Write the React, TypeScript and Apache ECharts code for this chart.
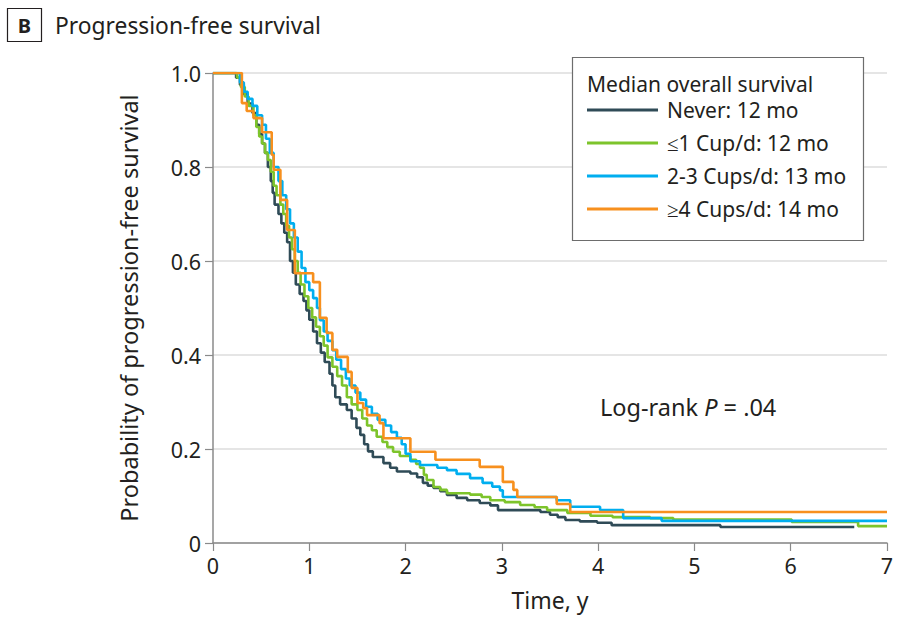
import React, { useEffect, useRef } from "react";
import * as echarts from "echarts";

const xTicks = [0, 1, 2, 3, 4, 5, 6, 7];
const yTicks = [0, 0.2, 0.4, 0.6, 0.8, 1.0];

const seriesNames = [
  "Never: 12 mo",
  "≤1 Cup/d: 12 mo",
  "2-3 Cups/d: 13 mo",
  "≥4 Cups/d: 14 mo",
];
const seriesColors = ["#2F4B57", "#7DC42B", "#00AEEF", "#F7901E"];

const neverTime = [0, 0.24, 0.28, 0.32, 0.36, 0.41, 0.45, 0.48, 0.51, 0.54, 0.57, 0.6, 0.62, 0.64, 0.68, 0.71, 0.74, 0.77, 0.8, 0.83, 0.86, 0.9, 0.94, 0.97, 1.0, 1.04, 1.08, 1.12, 1.16, 1.21, 1.24, 1.27, 1.32, 1.39, 1.44, 1.49, 1.53, 1.57, 1.61, 1.66, 1.77, 1.84, 1.91, 2.05, 2.12, 2.18, 2.23, 2.29, 2.36, 2.43, 2.53, 2.64, 2.77, 2.88, 2.96, 3.4, 3.5, 3.58, 3.66, 3.81, 3.99, 4.14, 5.27, 6.66];
const neverSurv = [1.0, 0.99, 0.975, 0.955, 0.935, 0.915, 0.89, 0.87, 0.85, 0.83, 0.8, 0.77, 0.745, 0.72, 0.7, 0.68, 0.66, 0.64, 0.6, 0.575, 0.55, 0.53, 0.515, 0.495, 0.475, 0.45, 0.425, 0.405, 0.385, 0.36, 0.335, 0.31, 0.295, 0.283, 0.265, 0.245, 0.23, 0.21, 0.195, 0.183, 0.17, 0.16, 0.152, 0.148, 0.14, 0.128, 0.122, 0.117, 0.11, 0.102, 0.096, 0.091, 0.085, 0.08, 0.07, 0.066, 0.06, 0.055, 0.049, 0.046, 0.043, 0.038, 0.034, 0.034];

const lowTime = [0, 0.25, 0.29, 0.33, 0.37, 0.42, 0.45, 0.48, 0.51, 0.54, 0.57, 0.6, 0.63, 0.66, 0.7, 0.73, 0.76, 0.79, 0.82, 0.85, 0.88, 0.91, 0.95, 0.99, 1.03, 1.07, 1.11, 1.15, 1.19, 1.24, 1.29, 1.34, 1.39, 1.44, 1.5, 1.55, 1.6, 1.65, 1.7, 1.76, 1.81, 1.87, 1.94, 2.05, 2.11, 2.15, 2.19, 2.22, 2.29, 2.36, 2.43, 2.67, 2.79, 2.88, 3.03, 3.19, 3.34, 3.47, 3.68, 3.92, 4.15, 4.54, 4.78, 6.01, 6.7, 7.0];
const lowSurv = [1.0, 0.99, 0.97, 0.95, 0.93, 0.91, 0.885, 0.865, 0.85, 0.83, 0.815, 0.79, 0.76, 0.74, 0.72, 0.7, 0.675, 0.65, 0.625, 0.6, 0.575, 0.55, 0.525, 0.5, 0.48, 0.46, 0.44, 0.42, 0.395, 0.375, 0.355, 0.335, 0.31, 0.295, 0.283, 0.265, 0.25, 0.24, 0.226, 0.215, 0.204, 0.194, 0.185, 0.177, 0.168, 0.16, 0.145, 0.134, 0.119, 0.113, 0.106, 0.103, 0.098, 0.091, 0.087, 0.081, 0.076, 0.07, 0.064, 0.058, 0.055, 0.053, 0.05, 0.045, 0.036, 0.036];

const midTime = [0, 0.28, 0.32, 0.36, 0.41, 0.46, 0.51, 0.55, 0.59, 0.63, 0.68, 0.72, 0.76, 0.8, 0.84, 0.88, 0.92, 0.96, 1.0, 1.04, 1.08, 1.11, 1.15, 1.19, 1.24, 1.28, 1.33, 1.38, 1.42, 1.48, 1.53, 1.59, 1.65, 1.71, 1.79, 1.85, 1.91, 1.96, 2.0, 2.05, 2.15, 2.33, 2.43, 2.53, 2.67, 2.8, 2.9, 2.98, 3.01, 3.57, 3.71, 4.02, 4.26, 4.66, 7.0];
const midSurv = [1.0, 0.98, 0.96, 0.945, 0.93, 0.91, 0.89, 0.86, 0.83, 0.8, 0.77, 0.74, 0.71, 0.68, 0.65, 0.62, 0.585, 0.555, 0.538, 0.521, 0.5, 0.474, 0.45, 0.43, 0.41, 0.39, 0.37, 0.35, 0.335, 0.32, 0.305, 0.29, 0.275, 0.262, 0.25, 0.236, 0.224, 0.21, 0.19, 0.174, 0.166, 0.16, 0.155, 0.147, 0.138, 0.128, 0.12, 0.112, 0.098, 0.091, 0.077, 0.07, 0.053, 0.047, 0.047];

const highTime = [0, 0.3, 0.35, 0.42, 0.51, 0.61, 0.63, 0.7, 0.77, 0.85, 1.04, 1.11, 1.18, 1.24, 1.29, 1.4, 1.44, 1.5, 1.56, 1.6, 1.73, 1.77, 2.05, 2.31, 2.77, 3.01, 3.12, 3.16, 3.57, 3.71, 7.0];
const highSurv = [1.0, 0.936, 0.919, 0.904, 0.874, 0.826, 0.794, 0.73, 0.666, 0.574, 0.555, 0.479, 0.447, 0.411, 0.396, 0.364, 0.33, 0.298, 0.287, 0.272, 0.255, 0.223, 0.194, 0.177, 0.162, 0.13, 0.113, 0.098, 0.083, 0.066, 0.066];

const allTimes = [neverTime, lowTime, midTime, highTime];
const allSurv = [neverSurv, lowSurv, midSurv, highSurv];

const FONT = "Noto Sans";
const INK = "#231f20";

export default function App() {
  const ref = useRef<HTMLDivElement>(null);
  useEffect(() => {
    if (!ref.current) return;
    const chart = echarts.init(ref.current, null, { renderer: "svg" });
    const series = seriesNames.map((name, i) => ({
      name,
      type: "line",
      step: "end",
      showSymbol: false,
      symbol: "none",
      data: allTimes[i].map((t, j) => [t, allSurv[i][j]]),
      lineStyle: { color: seriesColors[i], width: 2.6 },
      itemStyle: { color: seriesColors[i] },
      z: 2 + i,
    }));
    chart.setOption({
      animation: false,
      backgroundColor: "#ffffff",
      textStyle: { fontFamily: FONT },
      grid: { left: 213, right: 16, top: 73, bottom: 74, containLabel: false },
      xAxis: {
        type: "value",
        min: 0,
        max: 7,
        interval: 1,
        name: "Time, y",
        nameLocation: "middle",
        nameGap: 45,
        nameTextStyle: { fontSize: 23, color: INK, fontFamily: FONT },
        axisLine: { show: true, onZero: false, lineStyle: { color: "#8a8a8a", width: 1.5 } },
        axisTick: { show: true, length: 8, lineStyle: { color: "#8a8a8a", width: 1.2 } },
        axisLabel: {
          fontSize: 21.5,
          color: INK,
          margin: 11,
          fontFamily: FONT,
          formatter: (v: number) => (xTicks.includes(v) ? String(v) : ""),
        },
        splitLine: { show: false },
      },
      yAxis: {
        type: "value",
        min: 0,
        max: 1,
        interval: 0.2,
        name: "Probability of progression-free survival",
        nameLocation: "middle",
        nameGap: 72,
        nameTextStyle: { fontSize: 23.5, color: INK, fontFamily: FONT },
        axisLine: { show: true, lineStyle: { color: "#8a8a8a", width: 1.5 } },
        axisTick: { show: true, length: 8, lineStyle: { color: "#8a8a8a", width: 1.2 } },
        axisLabel: {
          fontSize: 21.5,
          color: INK,
          margin: 12,
          fontFamily: FONT,
          formatter: (v: number) => {
            const t = yTicks.find((y) => Math.abs(y - v) < 1e-6);
            if (t === undefined) return "";
            return t === 0 ? "0" : t.toFixed(1);
          },
        },
        splitLine: { show: true, lineStyle: { color: "#dcdcdc", width: 1.5 } },
      },
      legend: {
        show: true,
        orient: "vertical",
        left: 587,
        top: 99,
        padding: 0,
        z: 20,
        itemWidth: 71,
        itemHeight: 3,
        itemGap: 11,
        icon: "rect",
        data: seriesNames,
        textStyle: {
          fontSize: 21,
          color: INK,
          fontFamily: FONT,
          lineHeight: 22,
          padding: [0, 0, 0, 4],
        },
        selectedMode: false,
      },
      graphic: [
        {
          type: "rect",
          shape: { x: 572.5, y: 57.5, width: 291, height: 183 },
          style: { fill: "#ffffff", stroke: "#6d6d6d", lineWidth: 1.2 },
          z: 3,
        },
        {
          type: "text",
          x: 587,
          y: 84,
          style: {
            text: "Median overall survival",
            fontSize: 21,
            fontFamily: FONT,
            fill: INK,
            verticalAlign: "middle",
          },
          z: 21,
        },
        {
          type: "rect",
          shape: { x: 7.5, y: 8.5, width: 34, height: 33 },
          style: { fill: "#ffffff", stroke: INK, lineWidth: 1.2 },
        },
        {
          type: "text",
          x: 24.5,
          y: 25,
          style: {
            text: "B",
            fontSize: 20,
            fontWeight: "bold",
            fontFamily: FONT,
            fill: INK,
            align: "center",
            verticalAlign: "middle",
          },
        },
        {
          type: "text",
          x: 55,
          y: 25,
          style: {
            text: "Progression-free survival",
            fontSize: 22.8,
            fontFamily: FONT,
            fill: INK,
            verticalAlign: "middle",
          },
        },
        {
          type: "text",
          x: 600,
          y: 407,
          style: {
            text: "{a|Log-rank }{b|P}{a| = .04}",
            verticalAlign: "middle",
            rich: {
              a: { fontSize: 23.5, fontFamily: FONT, fill: INK, color: INK },
              b: { fontSize: 23.5, fontFamily: FONT, fontStyle: "italic", fill: INK, color: INK },
            },
          },
        },
      ],
      series,
    });
    return () => chart.dispose();
  }, []);
  return (
    <div
      ref={ref}
      style={{ position: "fixed", left: 0, top: 0, width: 903, height: 617 }}
    />
  );
}
